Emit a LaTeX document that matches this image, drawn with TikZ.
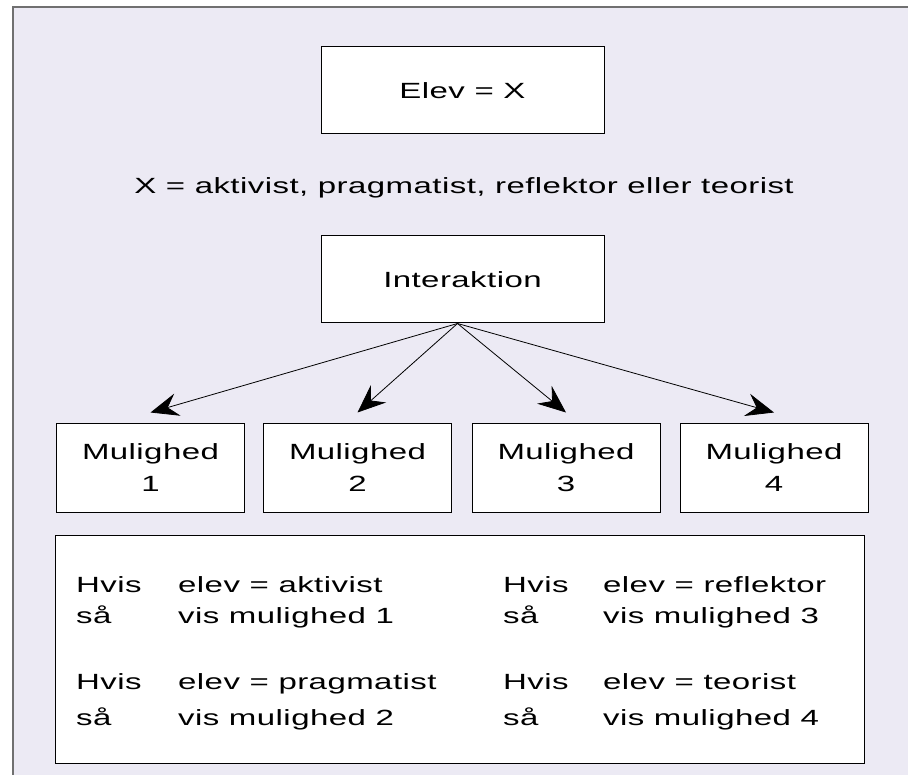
\documentclass[tikz,border=0pt]{standalone}
\usepackage{fontspec}
\setmainfont{Liberation Sans}[FakeStretch=1.5, LetterSpace=2]
\usetikzlibrary{arrows.meta}
\definecolor{bgc}{RGB}{236,234,244}
\definecolor{framec}{RGB}{112,112,112}
\begin{document}
\begin{tikzpicture}[x=1pt,y=-1pt,
  box/.style={draw=black, fill=white, line width=1pt, inner sep=0pt, align=center},
  mbox/.style={box, minimum width=188pt, minimum height=88pt},
  txt/.style={anchor=base west, inner sep=0pt},
  link/.style={-{Stealth[length=28pt,width=23pt,inset=10pt]}, line width=0.8pt},
  font=\fontsize{22}{32}\selectfont]
\useasboundingbox (0,0) rectangle (908,775);
\fill[bgc] (13,7) rectangle (908,775);
\draw[framec, line width=2pt] (908,7) -- (13,7) -- (13,775);

\node[box, minimum width=283pt, minimum height=87pt] (elev) at (462.5,90.5) {Elev = X};
\node[anchor=base, inner sep=0pt] (xdef) at (464,194) {X = aktivist, pragmatist, reflektor eller teorist};
\node[box, minimum width=283pt, minimum height=87pt] (inter) at (462.5,279.5) {Interaktion};

\node[mbox] (m1) at (150.5,468) {Mulighed\\1};
\node[mbox] (m2) at (357.5,468) {Mulighed\\2};
\node[mbox] (m3) at (566,468) {Mulighed\\3};
\node[mbox] (m4) at (774,468) {Mulighed\\4};

\coordinate (src) at ([xshift=-5pt]inter.south);
\draw[link] (src) -- ([yshift=11pt]m1.north);
\draw[link] (src) -- ([yshift=11pt]m2.north);
\draw[link] (src) -- ([yshift=11pt]m3.north);
\draw[link] (src) -- ([yshift=11pt]m4.north);

\node[box, minimum width=809pt, minimum height=228pt] (rules) at (459.5,649) {};
\node[txt] (h1) at (76,592) {Hvis};
\node[txt] (c1) at (178,592) {elev = aktivist};
\node[txt] (s1) at (76,623) {så};
\node[txt] (v1) at (178,623) {vis mulighed 1};
\node[txt] (h2) at (76,689) {Hvis};
\node[txt] (c2) at (178,689) {elev = pragmatist};
\node[txt] (s2) at (76,725) {så};
\node[txt] (v2) at (178,725) {vis mulighed 2};
\node[txt] (h3) at (503,592) {Hvis};
\node[txt] (c3) at (603,592) {elev = reflektor};
\node[txt] (s3) at (503,623) {så};
\node[txt] (v3) at (603,623) {vis mulighed 3};
\node[txt] (h4) at (503,689) {Hvis};
\node[txt] (c4) at (603,689) {elev = teorist};
\node[txt] (s4) at (503,725) {så};
\node[txt] (v4) at (603,725) {vis mulighed 4};
\end{tikzpicture}
\end{document}
